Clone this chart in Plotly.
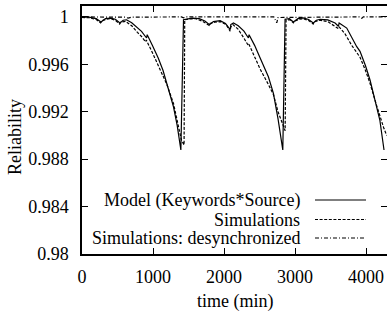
import plotly.graph_objects as go

# ---------------- data ----------------
model_t = [0, 100, 200, 267, 330, 400, 470, 534, 580, 627, 700, 780, 838, 909, 918, 990, 1073, 1140, 1195, 1288, 1340, 1392,
           1429, 1470, 1550, 1650, 1730, 1795, 1850, 1945, 2020, 2086, 2095, 2132, 2200, 2280, 2343, 2352, 2430, 2508, 2624, 2695, 2760, 2827,
           2859, 2920, 2976, 3040, 3113, 3190, 3257, 3300, 3352, 3460, 3563, 3610, 3620, 3727, 3797, 3868, 3914, 3990, 4055, 4149, 4193, 4252]
model_r = [1.0, 0.99998, 0.99985, 0.99957, 0.99985, 0.99990, 0.99980, 0.99949, 0.99972, 0.99976, 0.99950, 0.99905, 0.99878, 0.99822, 0.99850, 0.99760, 0.99653, 0.99550, 0.99440, 0.99242, 0.99085, 0.98877,
           0.99976, 0.99980, 0.99990, 0.99985, 0.99965, 0.99934, 0.99960, 0.99968, 0.99945, 0.99892, 0.99935, 0.99949, 0.99925, 0.99880, 0.99822, 0.99850, 0.99760, 0.99653, 0.99495, 0.99355, 0.99140, 0.98877,
           0.99980, 0.99985, 0.99957, 0.99985, 0.99991, 0.99978, 0.99949, 0.99972, 0.99980, 0.99975, 0.99949, 0.99921, 0.99949, 0.99906, 0.99822, 0.99749, 0.99710, 0.99590, 0.99468, 0.99242, 0.99130, 0.98877]

sim_t = [0, 100, 200, 262, 280, 340, 400, 470, 530, 545, 615, 700, 780, 838, 895, 905, 990, 1073, 1140, 1195, 1288, 1340, 1400, 1437,
         1446, 1500, 1600, 1700, 1790, 1800, 1870, 1950, 2030, 2085, 2095, 2125, 2200, 2280, 2340, 2350, 2430, 2508, 2624, 2695, 2760, 2860,
         2873, 2930, 2976, 2990, 3060, 3113, 3190, 3255, 3270, 3352, 3460, 3560, 3600, 3615, 3700, 3797, 3868, 3914, 3990, 4055, 4149, 4200, 4250, 4290]
sim_r = [0.99995, 0.99993, 0.99978, 0.99950, 0.99968, 0.99980, 0.99985, 0.99972, 0.99940, 0.99955, 0.99962, 0.99925, 0.99870, 0.99835, 0.99790, 0.99805, 0.99700, 0.99590, 0.99500, 0.99430, 0.99270, 0.99130, 0.98960, 0.98920,
         0.99975, 0.99982, 0.99985, 0.99962, 0.99928, 0.99945, 0.99955, 0.99960, 0.99935, 0.99880, 0.99915, 0.99935, 0.99895, 0.99820, 0.99760, 0.99770, 0.99660, 0.99560, 0.99430, 0.99345, 0.99200, 0.99040,
         0.99975, 0.99975, 0.99950, 0.99965, 0.99980, 0.99985, 0.99970, 0.99940, 0.99960, 0.99972, 0.99960, 0.99925, 0.99905, 0.99920, 0.99860, 0.99760, 0.99700, 0.99660, 0.99550, 0.99440, 0.99250, 0.99150, 0.99060, 0.99000]

desync_t = [0, 600, 650, 700, 1400, 1430, 1460, 2700, 2742, 2760, 3900, 3940, 3960, 4290]
desync_r = [1.0, 0.99998, 0.99990, 0.99998, 1.0, 0.99992, 1.0, 1.0, 0.99950, 0.99995, 1.0, 0.99988, 1.0, 1.0]

series_names = ["Model (Keywords*Source)", "Simulations", "Simulations: desynchronized"]

x_ticks = [0, 1000, 2000, 3000, 4000]
y_ticks = [0.98, 0.984, 0.988, 0.992, 0.996, 1.0]
y_tick_text = ["0.98", "0.984", "0.988", "0.992", "0.996", "1"]

# ---------------- figure ----------------
FONT = "Liberation Serif"
FS = 18
TXT = dict(family=FONT, size=FS, color="black")
dashes = ["solid", "3px,1.6px", "4px,2px,1px,2px"]

fig = go.Figure()
for t, r, name, d in zip([model_t, sim_t, desync_t], [model_r, sim_r, desync_r], series_names, dashes):
    fig.add_trace(go.Scatter(x=t, y=r, mode="lines", name=name, showlegend=False,
                             line=dict(color="black", width=1.2, dash=d)))
# dummy trace for right axis ticks
fig.add_trace(go.Scatter(x=[None], y=[None], yaxis="y2", showlegend=False, hoverinfo="skip"))

W, H = 387, 314
L, R, T, B = 82, 0, 6, 60
pw, ph = W - L - R, H - T - B
xmax = 4294
fig.update_layout(
    width=W, height=H,
    margin=dict(l=L, r=R, t=T, b=B),
    paper_bgcolor="white", plot_bgcolor="white",
    font=TXT,
    xaxis=dict(range=[0, xmax], tickvals=x_ticks, ticks="inside", ticklen=6, tickwidth=1, tickcolor="black",
               showline=True, linewidth=1.5, linecolor="black", mirror="ticks", showgrid=False, zeroline=False,
               ticklabelstandoff=6, tickfont=TXT),
    yaxis=dict(range=[0.98, 1.00092], tickvals=y_ticks, ticktext=y_tick_text, ticks="inside", ticklen=6, tickwidth=1,
               tickcolor="black", showline=True, linewidth=1.5, linecolor="black", mirror=False, showgrid=False,
               zeroline=False, ticklabelstandoff=8, tickfont=TXT),
    yaxis2=dict(range=[0.98, 1.00092], tickvals=y_ticks, overlaying="y", side="right", ticks="inside", ticklen=6,
                tickwidth=1, tickcolor="black", showticklabels=False, showline=False, showgrid=False, zeroline=False),
)

def px_x(p):
    return (p - L) / pw

def px_y(p):
    return (H - B - p) / ph

# axis titles
fig.add_annotation(text="Reliability", x=px_x(15), y=px_y(137), xref="paper", yref="paper", textangle=-90,
                   showarrow=False, xanchor="center", yanchor="middle", font=TXT)
fig.add_annotation(text="time (min)", x=px_x(235), y=px_y(301), xref="paper", yref="paper",
                   showarrow=False, xanchor="center", yanchor="middle", font=TXT)

# legend (gnuplot style: text right-aligned, sample to the right)
leg_y = [200, 219.5, 238]
for name, d, yy in zip(series_names, dashes, leg_y):
    fig.add_annotation(text=name, x=px_x(302), y=px_y(yy), xref="paper", yref="paper", showarrow=False,
                       xanchor="right", yanchor="middle", font=TXT)
    fig.add_shape(type="line", xref="paper", yref="paper", x0=px_x(315), x1=px_x(366), y0=px_y(yy), y1=px_y(yy),
                  line=dict(color="black", width=1.2, dash=d))

fig.write_html("out.html", config={"displayModeBar": False},
               post_script="document.body.style.margin='0';document.body.style.padding='0';")
